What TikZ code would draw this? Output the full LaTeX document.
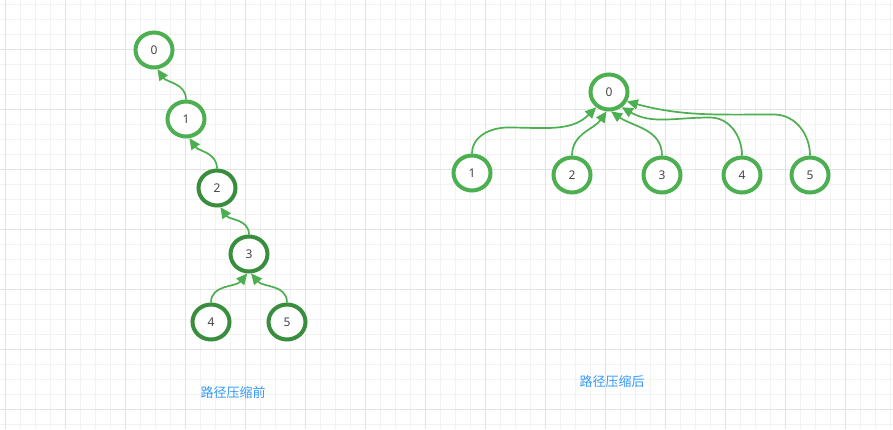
\documentclass[tikz,border=0pt]{standalone}
\usepackage{fontspec}
\setmainfont{Noto Sans}
\newfontfamily\cjk{Noto Sans CJK SC}
\usetikzlibrary{shapes.geometric, arrows.meta}
\definecolor{lgreen}{RGB}{76,175,80}
\definecolor{dgreen}{RGB}{56,142,60}
\definecolor{numgray}{RGB}{70,70,70}
\definecolor{capblue}{RGB}{51,153,255}
\definecolor{gminor}{RGB}{242,242,242}
\definecolor{gmajor}{RGB}{226,226,226}
\tikzset{
  ring/.style={
    ellipse,
    minimum width=37pt,
    minimum height=35pt,
    inner sep=0pt,
    line width=4pt,
    draw=lgreen,
    fill=white,
    text=numgray,
    font=\fontsize{12}{14}\selectfont
    },
  darkring/.style={
    ring,
    draw=dgreen
    },
  arrow/.style={
    draw=lgreen,
    line width=1.7pt,
    -{Triangle[length=11pt,width=10pt]}
    },
  caption/.style={
    text=capblue,
    font=\cjk\fontsize{13}{15}\selectfont
    }
}
\begin{document}
\begin{tikzpicture}[x=1pt,y=1pt]
\useasboundingbox (0,0) rectangle (893,-429);
\fill[white] (0,0) rectangle (893,-429);
% grid
\foreach \x in {5,20,...,890} \draw[gminor,line width=1pt] (\x,0) -- (\x,-429);
\foreach \y in {4,19,...,424} \draw[gminor,line width=1pt] (0,-\y) -- (893,-\y);
\foreach \x in {5,65,...,845} \draw[gmajor,line width=1pt] (\x,0) -- (\x,-429);
\foreach \y in {49,109,...,409} \draw[gmajor,line width=1pt] (0,-\y) -- (893,-\y);
% before
\node (l0) [ring] at (154,-50) {0};
\node (l1) [ring] at (186,-119) {1};
\node (l2) [darkring] at (217,-188) {2};
\node (l3) [darkring] at (249,-254) {3};
\node (l4) [darkring] at (211,-322) {4};
\node (l5) [darkring] at (287,-322) {5};
\draw[arrow] (l1.north) to[out=90,in=-55] (l0.-80);
\draw[arrow] (l2.north) to[out=90,in=-55] (l1.-80);
\draw[arrow] (l3.north) to[out=90,in=-55] (l2.-80);
\draw[arrow] (l4.north) to[out=90,in=-130] (l3.-95);
\draw[arrow] (l5.north) to[out=90,in=-50] (l3.-84);
% after
\node (r0) [ring] at (609,-92) {0};
\node (r1) [ring] at (472,-173) {1};
\node (r2) [ring] at (572,-175) {2};
\node (r3) [ring] at (662,-175) {3};
\node (r4) [ring] at (742,-175) {4};
\node (r5) [ring] at (810,-175) {5};
\draw[arrow] (r1.north) to[out=90,in=180] ++(36,26) to[out=0,in=-135] (r0.-130);
\draw[arrow] (r2.north) to[out=90,in=-125] (r0.-97);
\draw[arrow] (r3.north) to[out=90,in=-35] (r0.-84);
\draw[arrow] (r4.north) to[out=90,in=0] ++(-32,38) to[out=180,in=-30] (r0.-50);
\draw[arrow] (r5.north) to[out=90,in=0] ++(-36,41) to[out=180,in=-15] (r0.-28);
% captions
\node (before) [caption] at (233,-393) {路径压缩前};
\node (after) [caption] at (612,-382) {路径压缩后};
\end{tikzpicture}
\end{document}
